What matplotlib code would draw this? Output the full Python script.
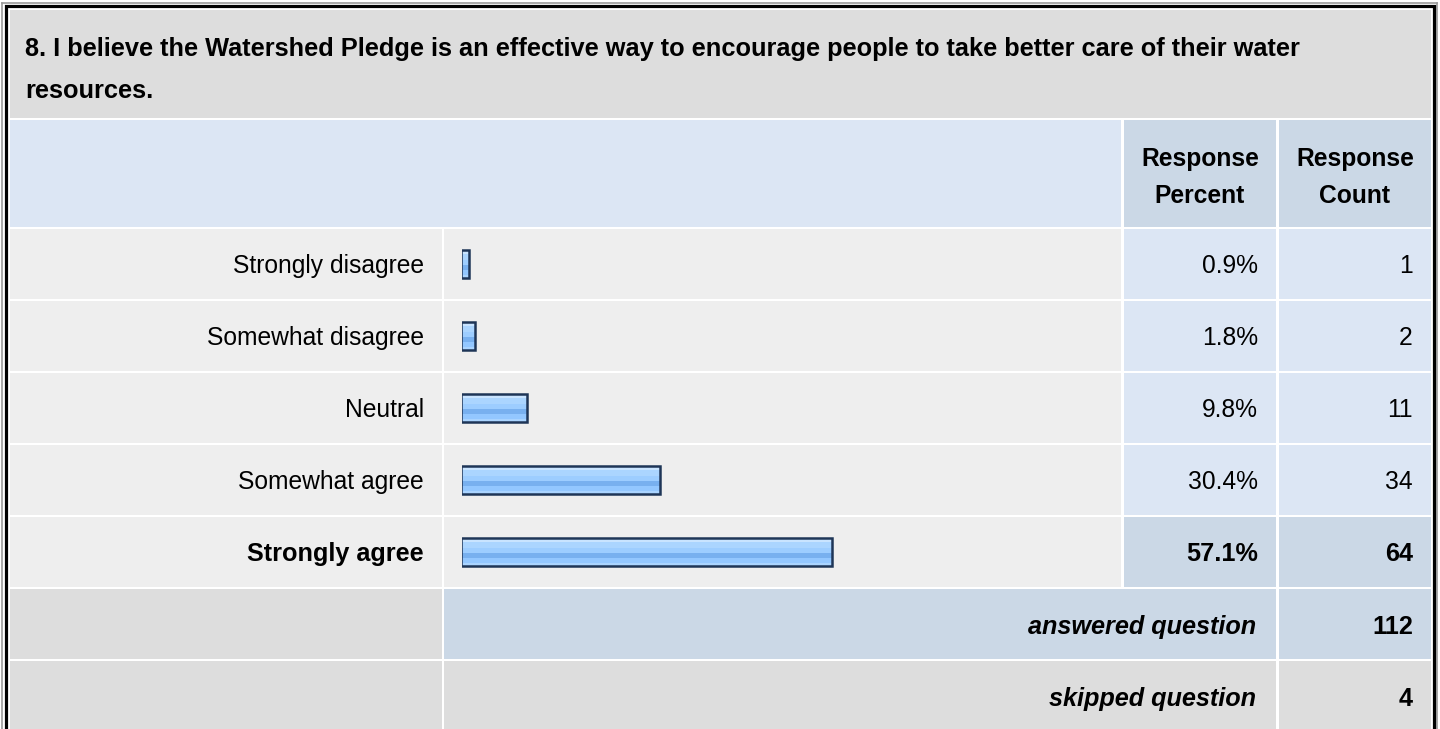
import matplotlib
matplotlib.use('Agg')
import matplotlib.pyplot as plt
from matplotlib.patches import Rectangle

plt.rcParams['font.family'] = ['Liberation Sans', 'DejaVu Sans']

# survey data
title_lines = ['8. I believe the Watershed Pledge is an effective way to encourage people to take better care of their water',
               'resources.']
answers = ['Strongly disagree', 'Somewhat disagree', 'Neutral', 'Somewhat agree', 'Strongly agree']
percents = [0.9, 1.8, 9.8, 30.4, 57.1]
counts = [1, 2, 11, 34, 64]
header_pct = ['Response', 'Percent']
header_cnt = ['Response', 'Count']
answered = 112
skipped = 4

GRAY = '#DDDDDD'
LIGHT = '#EEEEEE'
BLUE1 = '#DCE6F4'
BLUE2 = '#CBD8E6'
FS = 17.7   # regular text
FB = 18.2   # bold text

fig = plt.figure(figsize=(14.4, 7.29), dpi=100)
ax = fig.add_axes([0, 0, 1, 1])
ax.set_xlim(0, 1440)
ax.set_ylim(729, 0)
ax.axis('off')

def cell(x0, y0, x1, y1, c):
    ax.add_patch(Rectangle((x0, y0), x1 - x0, y1 - y0, facecolor=c, edgecolor='none'))

# column edges (pixels)
cL = (10, 442)
cB = (444, 1121)
cP = (1124, 1276)
cC = (1279, 1431)
pitch = 72
row0 = 229

# outer frame
ax.plot([2, 2], [740, 3], color='#999999', lw=1.2)
ax.plot([2, 1437], [3, 3], color='#999999', lw=1.2)
ax.plot([1437, 1437], [3, 740], color='#999999', lw=1.2)
ax.plot([5.5, 5.5, 1433.5, 1433.5], [740, 6, 6, 740], color='black', lw=2.3, solid_joinstyle='miter')

# title
cell(cL[0], 10, cC[1], 118, GRAY)
ax.text(25, 56, title_lines[0], fontsize=18.3, fontweight='bold', va='baseline')
ax.text(25, 98, title_lines[1], fontsize=18.3, fontweight='bold', va='baseline')

# header
cell(cL[0], 120, cB[1], 227, BLUE1)
cell(cP[0], 120, cP[1], 227, BLUE2)
cell(cC[0], 120, cC[1], 227, BLUE2)
for i in range(2):
    ax.text((cP[0] + cP[1]) / 2, 166 + 37 * i, header_pct[i], fontsize=FS, fontweight='bold', ha='center', va='baseline')
    ax.text((cC[0] + cC[1]) / 2, 166 + 37 * i, header_cnt[i], fontsize=FS, fontweight='bold', ha='center', va='baseline')

best = counts.index(max(counts))
for i, (a, p, n) in enumerate(zip(answers, percents, counts)):
    y0 = row0 + pitch * i
    y1 = y0 + 70
    yc = (y0 + y1) / 2
    side = BLUE2 if i == best else BLUE1
    cell(cL[0], y0, cL[1], y1, LIGHT)
    cell(cB[0], y0, cB[1], y1, LIGHT)
    cell(cP[0], y0, cP[1], y1, side)
    cell(cC[0], y0, cC[1], y1, side)
    w = 'bold' if i == best else 'normal'
    fs = FB if i == best else FS
    ax.text(424, yc + 9, a, fontsize=fs, fontweight=w, ha='right', va='baseline')
    ax.text(1258, yc + 9, '%.1f%%' % p, fontsize=fs, fontweight=w, ha='right', va='baseline')
    ax.text(1413, yc + 9, str(n), fontsize=fs, fontweight=w, ha='right', va='baseline')

# answered / skipped
foot = [('answered question', answered, BLUE2), ('skipped question', skipped, GRAY)]
for k, (lab, val, c) in enumerate(foot):
    y0 = row0 + pitch * (len(answers) + k)
    y1 = y0 + 70
    yc = (y0 + y1) / 2
    cell(cL[0], y0, cL[1], y1, GRAY)
    cell(cB[0], y0, cP[1], y1, c)
    cell(cC[0], y0, cC[1], y1, c)
    ax.text(1256, yc + 10, lab, fontsize=FB, fontweight='bold', style='italic', ha='right', va='baseline')
    ax.text(1413, yc + 10, str(val), fontsize=FB, fontweight='bold', ha='right', va='baseline')

# bars: 0% sits at x=462.4 px, 6.45 px per percent
px = 100 / 645.0
top = row0 - 1
bax = fig.add_axes([462.4 / 1440, 1 - (top + pitch * 5) / 729, 645 / 1440, pitch * 5 / 729])
bax.set_xlim(0, 100)
bax.set_ylim(len(answers) - 0.5, -0.5)
bax.axis('off')
bax.patch.set_alpha(0)

ys = list(range(len(answers)))
h = 28 / pitch
pad = 1.15 * px   # border sits just outside the fill
stripes = [(0.0, 1.0, '#9DCDFF'), (0.0, 0.14, '#C9E4FF'), (0.14, 0.34, '#ABD5FF'),
           (0.52, 0.72, '#78B0EF'), (0.72, 0.88, '#93C7FF'), (0.88, 1.0, '#AAD4FF')]
for a, b, c in stripes:
    yy = [y - h / 2 + (a + b) / 2 * h for y in ys]
    bax.barh(yy, [p + 2 * pad for p in percents], height=(b - a) * h, left=-pad, color=c, edgecolor='none')
bax.barh(ys, [p + 2 * pad for p in percents], height=h, left=-pad, facecolor='none', edgecolor='#1E3557', linewidth=1.8)

fig.savefig('out.png', dpi=100)
